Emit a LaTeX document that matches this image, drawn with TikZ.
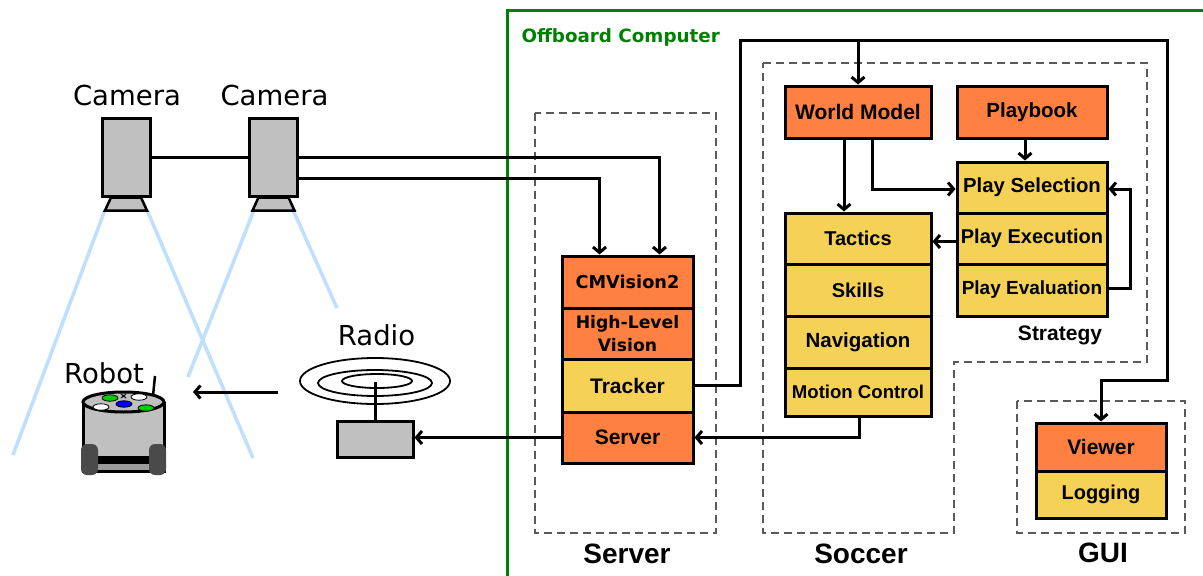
\documentclass[tikz,border=0pt]{standalone}
\usepackage{fontspec}
\setmainfont{Liberation Sans}
\newfontfamily\dvs{DejaVu Sans}
\usetikzlibrary{arrows.meta}

\definecolor{boxorange}{HTML}{FF8040}
\definecolor{boxyellow}{HTML}{F5D255}
\definecolor{camgray}{HTML}{C0C0C0}
\definecolor{groupgray}{HTML}{5A5A5A}
\definecolor{viewblue}{HTML}{BFDFFF}
\definecolor{offgreen}{HTML}{008000}
\definecolor{wheelgray}{HTML}{4A4A4A}

\newcommand\boxtxt[1]{\bfseries\fontsize{#1}{#1}\selectfont}

\tikzset{
  blk/.style={draw=black, line width=3pt, inner sep=0pt, align=center, line join=miter},
  orangebox/.style={blk, fill=boxorange, font=\boxtxt{20}},
  yellowbox/.style={blk, fill=boxyellow, font=\boxtxt{20}},
  srvbox/.style={minimum width=131pt},
  socbox/.style={minimum width=146pt},
  strbox/.style={minimum width=150pt},
  guibox/.style={minimum width=130pt},
  wire/.style={line width=3pt, line join=miter},
  arrow/.style={wire, -{Straight Barb[length=5.5pt,width=13pt]}},
  group/.style={draw=groupgray, line width=1.6pt, dash pattern=on 8pt off 5pt},
  grouplabel/.style={anchor=base, font=\boxtxt{28}},
  devlabel/.style={anchor=base, font=\dvs\fontsize{27.5}{28}\selectfont},
  cone/.style={draw=viewblue, line width=3.5pt},
  camera/.style={blk, fill=camgray, minimum width=48pt, minimum height=78pt},
  spot/.style={draw=black, line width=0.8pt},
}

\begin{document}
\begin{tikzpicture}[x=1pt, y=-1pt]
\clip (0,0) rectangle (1203,576);
\fill[white] (0,0) rectangle (1203,576);

% ---------- offboard computer frame ----------
\draw[draw=offgreen, line width=3pt] (507,10) rectangle (1240,610);
\node[anchor=base west, text=offgreen, font=\dvs\bfseries\fontsize{18.3}{20}\selectfont]
  (offlabel) at (518,42) {Offboard Computer};

% ---------- camera fields of view ----------
\draw[cone] (105,210) -- (13,455);
\draw[cone] (147,210) -- (253,458);
\draw[cone] (254,210) -- (188,377);
\draw[cone] (293,210) -- (337,308);

% ---------- cameras ----------
\node[camera] (cam1) at (126,157) {};
\node[camera] (cam2) at (273.5,157) {};
\foreach \c in {cam1,cam2}{
  \draw[line width=2.5pt, fill=camgray, line join=miter]
    ([xshift=-15pt]\c.south) -- ([xshift=15pt]\c.south)
    -- ([xshift=21pt,yshift=-13pt]\c.south) -- ([xshift=-21pt,yshift=-13pt]\c.south) -- cycle;
}
\node[devlabel] (cam1label) at (127,105) {Camera};
\node[devlabel] (cam2label) at (274.5,105) {Camera};

% ---------- radio ----------
\node[devlabel] (radiolabel) at (376.5,345) {Radio};
\draw[line width=1.8pt] (375,381) ellipse [x radius=75pt, y radius=23pt];
\draw[line width=1.8pt] (375,383) ellipse [x radius=57pt, y radius=13pt];
\draw[line width=1.8pt] (377,381) ellipse [x radius=35pt, y radius=7pt];
\node[blk, fill=camgray, minimum width=76pt, minimum height=36pt] (radiobox) at (375,439) {};
\coordinate (antennatop) at (375,382);
\draw[wire] (radiobox.north) -- (antennatop);

% ---------- robot ----------
\node[devlabel] (robotlabel) at (104,383) {Robot};
\fill[camgray] (83,402) rectangle (164,471);
\fill[black] (97,456) rectangle (150,464);
\fill[camgray!80!black] (97,464) rectangle (150,471);
\draw[line width=3pt] (83,402) -- (83,471) -- (164,471) -- (164,402);
\fill[wheelgray, rounded corners=6pt] (81,444) rectangle (98,475);
\fill[wheelgray, rounded corners=6pt] (149,444) rectangle (166,475);
\draw[line width=3pt, fill=camgray] (123.5,402) ellipse [x radius=40.5pt, y radius=10pt];
\draw[spot, fill=green!80!black] (110,398) ellipse [x radius=8pt, y radius=3.2pt];
\draw[spot, fill=white] (139,397) ellipse [x radius=8pt, y radius=3.2pt];
\draw[spot, fill=white] (101,407) ellipse [x radius=8pt, y radius=3.2pt];
\draw[spot, fill=blue] (124,404) ellipse [x radius=8pt, y radius=3.2pt];
\draw[spot, fill=green!80!black] (146,408) ellipse [x radius=8pt, y radius=3.2pt];
\draw[line width=1pt] (121,394) -- (126,398) (126,394) -- (121,398);
\draw[line width=2.5pt] (153,396) -- (155,376);

% ---------- server group ----------
\draw[group] (535,113) rectangle (716,533);
\node[orangebox, srvbox, minimum height=52pt, font=\dvs\boxtxt{17.7}] (cmv) at (627.5,282) {CMVision2};
\node[orangebox, srvbox, minimum height=51pt, font=\dvs\boxtxt{17.2}] (hlv) at (627.5,333.5)
  {High-Level\\[5pt]Vision};
\node[yellowbox, srvbox, minimum height=53pt, font=\boxtxt{21}] (tracker) at (627.5,385.5) {Tracker};
\node[orangebox, srvbox, minimum height=51pt, font=\boxtxt{21}] (server) at (627.5,437.5) {Server};
\node[grouplabel] (serverlabel) at (627,563) {Server};

% ---------- soccer group ----------
\draw[group] (763,63) -- (1147,63) -- (1147,362) -- (954,362) -- (954,533) -- (763,533) -- cycle;
\node[orangebox, socbox, minimum height=52pt, font=\boxtxt{21}] (wm) at (858,112) {World Model};
\node[orangebox, strbox, minimum height=52pt, font=\boxtxt{20.5}] (playbook) at (1032,112) {Playbook};
\node[yellowbox, socbox, minimum height=51pt] (tactics) at (858,238.5) {Tactics};
\node[yellowbox, socbox, minimum height=52pt] (skills) at (858,290) {Skills};
\node[yellowbox, socbox, minimum height=52pt, font=\boxtxt{20.5}] (nav) at (858,342) {Navigation};
\node[yellowbox, socbox, minimum height=48pt, font=\boxtxt{18.6}] (mc) at (858,392) {Motion Control};
\node[yellowbox, strbox, minimum height=51pt, font=\boxtxt{20.3}] (psel) at (1032,187.5) {Play Selection};
\node[yellowbox, strbox, minimum height=51pt] (pexe) at (1032,238.5) {Play Execution};
\node[yellowbox, strbox, minimum height=52pt, font=\boxtxt{19}] (peval) at (1032,290) {Play Evaluation};
\node[anchor=base, font=\boxtxt{21}] (strategylabel) at (1060,340) {Strategy};
\node[grouplabel] (soccerlabel) at (861,563) {Soccer};

% ---------- GUI group ----------
\draw[group] (1017,401) rectangle (1185,533);
\node[orangebox, guibox, minimum height=48pt, font=\boxtxt{21}] (viewer) at (1101,447) {Viewer};
\node[yellowbox, guibox, minimum height=47pt] (logging) at (1101,494.5) {Logging};
\node[grouplabel] (guilabel) at (1103,562) {GUI};

% ---------- connectors ----------
\draw[wire] (cam1) -- (cam2);
\draw[arrow] (cam2.east) -| ([xshift=32pt]cmv.north);
\draw[arrow] ([yshift=-21pt]cam2.east) -| ([xshift=-28pt]cmv.north);

\coordinate (bus) at (740,40);
\coordinate (busend) at (1167,40);
\coordinate (guibend) at (1167,380);
\draw[arrow] (tracker.east) -| (bus) -- (busend) -- (guibend) -| (viewer.north);
\draw[arrow] (wm.north |- bus) -- (wm.north);

\draw[arrow] ([xshift=-14pt]wm.south) -- ([xshift=-14pt]tactics.north);
\draw[arrow] ([xshift=14pt]wm.south) |- ([yshift=-1.5pt]psel.west);
\draw[arrow] ([xshift=-7pt]playbook.south) -- ([xshift=-7pt]psel.north);
\draw[arrow] ([yshift=-3pt]pexe.west) -- ([yshift=-3pt]tactics.east);
\draw[arrow] ([yshift=2pt]peval.east) -- ++(22,0) |- ([yshift=-1.5pt]psel.east);

\draw[arrow] ([xshift=1pt]mc.south) |- (server.east);
\draw[arrow] (server.west) -- (radiobox.east |- server.west);

\coordinate (signal) at (278,392);
\coordinate (robotrx) at (193,392);
\draw[arrow] (signal) -- (robotrx);
\end{tikzpicture}
\end{document}
